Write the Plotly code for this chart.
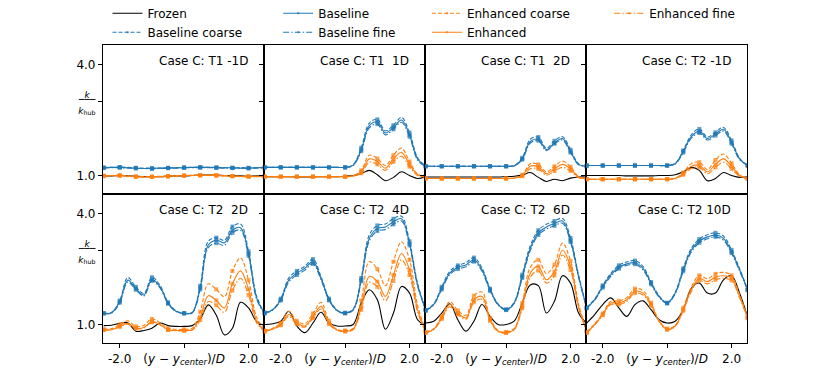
import plotly.graph_objects as go
from plotly.subplots import make_subplots

# lateral position (y - y_center)/D
X = [-2.5, -2.25, -2.0, -1.75, -1.5, -1.25, -1.0, -0.75, -0.5, -0.25, 0.0,
     0.25, 0.5, 0.75, 1.0, 1.25, 1.5, 1.75, 2.0, 2.25, 2.5]

TITLES = ["Case C: T1 -1D", "Case C: T1\u00a0 1D", "Case C: T1\u00a0 2D", "Case C: T2 -1D",
          "Case C: T2\u00a0 2D", "Case C: T2\u00a0 4D", "Case C: T2\u00a0 6D", "Case C: T2 10D"]

frozen = [
    [0.99, 0.99, 1.00, 0.99, 0.98, 0.97, 0.97, 0.97, 0.98, 0.99, 0.99, 1.00, 1.01, 1.02, 1.01, 1.00, 0.99, 0.99, 0.98, 0.99, 0.98],
    [0.97, 0.97, 0.97, 0.97, 0.96, 0.96, 0.96, 0.97, 0.97, 0.97, 0.98, 1.00, 1.05, 1.14, 1.02, 0.86, 0.95, 1.10, 1.00, 0.92, 0.97],
    [0.96, 0.96, 0.96, 0.96, 0.96, 0.96, 0.96, 0.96, 0.96, 0.96, 0.97, 0.98, 1.01, 1.08, 0.95, 0.84, 0.90, 0.86, 0.93, 0.96, 0.96],
    [1.00, 1.00, 1.00, 1.00, 1.00, 0.99, 0.99, 0.99, 0.99, 1.00, 1.00, 1.02, 1.10, 1.22, 1.14, 0.86, 0.92, 1.08, 1.00, 0.95, 0.97],
    [0.97, 0.98, 1.03, 1.05, 0.82, 0.84, 0.90, 1.04, 0.97, 0.95, 0.95, 0.97, 1.15, 1.53, 1.25, 0.72, 0.90, 1.60, 1.45, 1.08, 0.97],
    [1.00, 1.02, 1.09, 1.36, 0.96, 0.78, 1.04, 1.33, 1.04, 0.96, 0.96, 1.00, 1.58, 1.94, 1.67, 0.87, 1.31, 2.03, 1.85, 1.13, 0.97],
    [1.04, 1.09, 1.31, 1.56, 1.13, 0.82, 1.09, 1.54, 1.22, 1.00, 1.00, 1.09, 1.58, 2.07, 2.05, 1.31, 1.63, 2.32, 2.12, 1.31, 1.03],
    [1.04, 1.27, 1.54, 1.72, 1.45, 1.22, 1.54, 1.64, 1.40, 1.13, 1.04, 1.09, 1.40, 1.98, 2.12, 1.85, 1.85, 2.21, 2.32, 1.85, 1.20],
]

baseline = [
    [1.21, 1.22, 1.22, 1.21, 1.20, 1.19, 1.19, 1.20, 1.20, 1.21, 1.21, 1.22, 1.22, 1.22, 1.21, 1.21, 1.21, 1.20, 1.20, 1.21, 1.22],
    [1.22, 1.22, 1.22, 1.22, 1.22, 1.22, 1.22, 1.22, 1.22, 1.22, 1.22, 1.28, 1.70, 2.35, 2.45, 2.15, 2.30, 2.50, 2.10, 1.45, 1.25],
    [1.25, 1.25, 1.25, 1.25, 1.25, 1.25, 1.25, 1.25, 1.25, 1.25, 1.25, 1.26, 1.45, 1.92, 1.98, 1.70, 1.88, 2.00, 1.65, 1.30, 1.25],
    [1.27, 1.27, 1.27, 1.27, 1.27, 1.27, 1.27, 1.27, 1.27, 1.27, 1.27, 1.32, 1.65, 2.05, 2.20, 2.00, 2.12, 2.25, 1.90, 1.45, 1.27],
    [1.30, 1.32, 1.62, 2.20, 1.97, 1.80, 2.22, 2.02, 1.58, 1.36, 1.30, 1.32, 2.00, 3.15, 3.28, 3.21, 3.55, 3.62, 2.92, 1.72, 1.30],
    [1.31, 1.40, 1.67, 2.20, 2.39, 2.52, 2.70, 2.25, 1.67, 1.38, 1.31, 1.40, 2.21, 3.33, 3.60, 3.64, 3.78, 3.86, 3.19, 2.07, 1.40],
    [1.38, 1.54, 1.98, 2.39, 2.55, 2.61, 2.75, 2.48, 1.94, 1.54, 1.40, 1.58, 2.30, 3.06, 3.48, 3.64, 3.73, 3.80, 3.28, 2.30, 1.45],
    [1.45, 1.67, 2.03, 2.34, 2.55, 2.64, 2.67, 2.52, 2.12, 1.76, 1.58, 1.85, 2.48, 3.01, 3.26, 3.37, 3.42, 3.33, 2.97, 2.48, 1.94],
]

baseline_coarse = [
    [1.22, 1.22, 1.23, 1.22, 1.21, 1.20, 1.20, 1.20, 1.21, 1.21, 1.22, 1.22, 1.23, 1.22, 1.22, 1.21, 1.21, 1.21, 1.21, 1.21, 1.22],
    [1.22, 1.22, 1.22, 1.22, 1.22, 1.22, 1.22, 1.22, 1.22, 1.22, 1.22, 1.29, 1.75, 2.42, 2.52, 2.21, 2.36, 2.57, 2.16, 1.48, 1.26],
    [1.25, 1.25, 1.25, 1.25, 1.25, 1.25, 1.25, 1.25, 1.25, 1.25, 1.25, 1.27, 1.48, 1.98, 2.04, 1.74, 1.94, 2.05, 1.70, 1.32, 1.25],
    [1.27, 1.27, 1.27, 1.27, 1.27, 1.27, 1.27, 1.27, 1.27, 1.27, 1.27, 1.33, 1.68, 2.10, 2.26, 2.04, 2.17, 2.30, 1.95, 1.47, 1.27],
    [1.31, 1.33, 1.65, 2.27, 2.02, 1.84, 2.28, 2.06, 1.60, 1.37, 1.31, 1.33, 2.05, 3.25, 3.35, 3.28, 3.65, 3.72, 2.98, 1.77, 1.31],
    [1.32, 1.41, 1.70, 2.26, 2.45, 2.58, 2.77, 2.30, 1.70, 1.39, 1.32, 1.42, 2.26, 3.42, 3.68, 3.72, 3.86, 3.93, 3.25, 2.11, 1.41],
    [1.39, 1.56, 2.02, 2.44, 2.60, 2.67, 2.81, 2.53, 1.97, 1.56, 1.41, 1.60, 2.35, 3.13, 3.55, 3.71, 3.80, 3.87, 3.34, 2.34, 1.46],
    [1.46, 1.69, 2.06, 2.38, 2.60, 2.69, 2.73, 2.57, 2.15, 1.78, 1.59, 1.87, 2.52, 3.06, 3.31, 3.43, 3.48, 3.39, 3.02, 2.51, 1.95],
]

baseline_fine = [
    [1.20, 1.21, 1.21, 1.20, 1.19, 1.19, 1.18, 1.19, 1.20, 1.20, 1.21, 1.21, 1.21, 1.21, 1.21, 1.20, 1.20, 1.20, 1.19, 1.20, 1.21],
    [1.22, 1.22, 1.22, 1.22, 1.22, 1.22, 1.22, 1.22, 1.22, 1.22, 1.22, 1.27, 1.66, 2.29, 2.39, 2.10, 2.25, 2.44, 2.05, 1.42, 1.24],
    [1.25, 1.25, 1.25, 1.25, 1.25, 1.25, 1.25, 1.25, 1.25, 1.25, 1.25, 1.26, 1.43, 1.88, 1.94, 1.67, 1.86, 1.96, 1.62, 1.29, 1.25],
    [1.27, 1.27, 1.27, 1.27, 1.27, 1.27, 1.27, 1.27, 1.27, 1.27, 1.27, 1.31, 1.62, 2.01, 2.15, 1.96, 2.08, 2.20, 1.86, 1.43, 1.27],
    [1.30, 1.31, 1.59, 2.15, 1.94, 1.77, 2.18, 1.99, 1.56, 1.35, 1.30, 1.31, 1.95, 3.08, 3.20, 3.14, 3.48, 3.55, 2.86, 1.69, 1.29],
    [1.30, 1.39, 1.65, 2.15, 2.34, 2.47, 2.64, 2.21, 1.65, 1.37, 1.30, 1.39, 2.17, 3.26, 3.53, 3.57, 3.71, 3.80, 3.14, 2.04, 1.39],
    [1.37, 1.53, 1.95, 2.35, 2.50, 2.56, 2.70, 2.44, 1.91, 1.53, 1.39, 1.57, 2.26, 3.00, 3.42, 3.58, 3.67, 3.74, 3.23, 2.27, 1.44],
    [1.44, 1.66, 2.00, 2.30, 2.51, 2.60, 2.63, 2.48, 2.09, 1.74, 1.57, 1.83, 2.44, 2.96, 3.21, 3.32, 3.37, 3.28, 2.93, 2.45, 1.93],
]

enhanced = [
    [0.99, 1.00, 1.00, 0.98, 0.97, 0.96, 0.97, 0.97, 0.98, 0.99, 1.00, 1.00, 1.01, 1.01, 1.00, 0.99, 0.98, 0.98, 0.97, 0.98, 0.97],
    [0.97, 0.97, 0.97, 0.97, 0.97, 0.97, 0.97, 0.97, 0.97, 0.97, 0.97, 0.99, 1.10, 1.45, 1.38, 1.20, 1.45, 1.62, 1.30, 1.02, 0.97],
    [0.92, 0.92, 0.92, 0.92, 0.92, 0.92, 0.92, 0.92, 0.92, 0.92, 0.92, 0.93, 1.00, 1.25, 1.24, 1.05, 1.18, 1.30, 1.18, 0.95, 0.92],
    [0.90, 0.90, 0.90, 0.90, 0.90, 0.90, 0.90, 0.90, 0.90, 0.90, 0.90, 0.92, 1.05, 1.25, 1.28, 1.10, 1.30, 1.45, 1.25, 1.00, 0.92],
    [0.85, 0.86, 0.95, 1.03, 0.90, 0.92, 1.08, 1.00, 0.86, 0.84, 0.84, 0.86, 1.20, 1.78, 1.65, 1.45, 2.10, 2.45, 1.95, 1.10, 0.82],
    [0.82, 0.88, 1.00, 1.27, 1.04, 0.96, 1.22, 1.49, 1.04, 0.85, 0.82, 0.87, 1.49, 2.30, 2.16, 1.76, 2.34, 2.92, 2.48, 1.40, 0.82],
    [0.78, 0.87, 1.18, 1.54, 1.31, 1.18, 1.67, 1.76, 1.13, 0.82, 0.78, 0.87, 1.49, 2.39, 2.57, 2.21, 2.43, 3.01, 2.57, 1.49, 0.82],
    [0.78, 1.00, 1.27, 1.58, 1.58, 1.67, 1.90, 1.85, 1.54, 1.09, 0.87, 0.96, 1.40, 1.94, 2.25, 2.16, 2.28, 2.32, 2.25, 1.76, 1.18],
]

enhanced_coarse = [
    [1.00, 1.00, 1.01, 0.99, 0.98, 0.97, 0.97, 0.98, 0.99, 1.00, 1.00, 1.01, 1.01, 1.02, 1.01, 1.00, 0.99, 0.98, 0.98, 0.98, 0.98],
    [0.97, 0.97, 0.97, 0.97, 0.97, 0.97, 0.97, 0.97, 0.97, 0.97, 0.97, 1.00, 1.14, 1.55, 1.46, 1.27, 1.55, 1.74, 1.38, 1.04, 0.97],
    [0.92, 0.92, 0.92, 0.92, 0.92, 0.92, 0.92, 0.92, 0.92, 0.92, 0.92, 0.93, 1.02, 1.32, 1.30, 1.10, 1.25, 1.39, 1.24, 0.97, 0.92],
    [0.90, 0.90, 0.90, 0.90, 0.90, 0.90, 0.90, 0.90, 0.90, 0.90, 0.90, 0.93, 1.08, 1.32, 1.36, 1.16, 1.42, 1.58, 1.33, 1.02, 0.92],
    [0.88, 0.89, 1.00, 1.10, 0.95, 0.98, 1.15, 1.05, 0.90, 0.87, 0.87, 0.90, 1.35, 2.10, 1.95, 1.75, 2.45, 2.80, 2.20, 1.20, 0.85],
    [0.84, 0.90, 1.04, 1.35, 1.10, 1.02, 1.30, 1.60, 1.10, 0.87, 0.84, 0.90, 1.65, 2.70, 2.50, 2.05, 2.70, 3.24, 2.75, 1.52, 0.84],
    [0.80, 0.89, 1.22, 1.62, 1.38, 1.25, 1.78, 1.88, 1.18, 0.84, 0.80, 0.89, 1.58, 2.55, 2.75, 2.38, 2.62, 3.20, 2.72, 1.56, 0.84],
    [0.80, 1.02, 1.30, 1.63, 1.64, 1.73, 1.97, 1.92, 1.59, 1.11, 0.89, 0.98, 1.45, 2.01, 2.33, 2.24, 2.37, 2.41, 2.33, 1.81, 1.20],
]

enhanced_fine = [
    [0.98, 0.99, 0.99, 0.98, 0.96, 0.96, 0.96, 0.97, 0.97, 0.98, 0.99, 1.00, 1.00, 1.01, 1.00, 0.99, 0.98, 0.97, 0.97, 0.97, 0.97],
    [0.97, 0.97, 0.97, 0.97, 0.97, 0.97, 0.97, 0.97, 0.97, 0.97, 0.97, 0.98, 1.06, 1.36, 1.30, 1.14, 1.37, 1.52, 1.24, 1.00, 0.97],
    [0.92, 0.92, 0.92, 0.92, 0.92, 0.92, 0.92, 0.92, 0.92, 0.92, 0.92, 0.93, 0.98, 1.18, 1.18, 1.01, 1.12, 1.22, 1.12, 0.94, 0.92],
    [0.90, 0.90, 0.90, 0.90, 0.90, 0.90, 0.90, 0.90, 0.90, 0.90, 0.90, 0.91, 1.02, 1.19, 1.22, 1.05, 1.22, 1.36, 1.18, 0.98, 0.91],
    [0.85, 0.86, 0.94, 1.01, 0.89, 0.91, 1.06, 0.99, 0.85, 0.83, 0.83, 0.85, 1.12, 1.62, 1.52, 1.33, 1.92, 2.25, 1.80, 1.05, 0.81],
    [0.81, 0.87, 0.98, 1.22, 1.01, 0.93, 1.17, 1.42, 1.01, 0.84, 0.81, 0.86, 1.40, 2.14, 2.02, 1.64, 2.18, 2.75, 2.34, 1.34, 0.81],
    [0.77, 0.86, 1.15, 1.48, 1.27, 1.14, 1.60, 1.68, 1.10, 0.81, 0.77, 0.86, 1.44, 2.28, 2.46, 2.12, 2.33, 2.88, 2.47, 1.45, 0.81],
    [0.77, 0.99, 1.25, 1.54, 1.54, 1.63, 1.85, 1.80, 1.51, 1.08, 0.86, 0.95, 1.37, 1.89, 2.19, 2.10, 2.21, 2.25, 2.19, 1.72, 1.17],
]

BLUE = "#1f77b4"
ORANGE = "#ff7f0e"
DASH = "4px,2px"
DASHDOT = "6px,2px,1.5px,2px"

# name, data, colour, dash, markers?, legend
series = [
    ("Frozen", frozen, "black", "solid", False, "legend"),
    ("Baseline coarse", baseline_coarse, BLUE, DASH, True, "legend"),
    ("Baseline", baseline, BLUE, "solid", True, "legend2"),
    ("Baseline fine", baseline_fine, BLUE, DASHDOT, True, "legend2"),
    ("Enhanced coarse", enhanced_coarse, ORANGE, DASH, True, "legend3"),
    ("Enhanced", enhanced, ORANGE, "solid", True, "legend3"),
    ("Enhanced fine", enhanced_fine, ORANGE, DASHDOT, True, "legend4"),
]

msize = [4 if i % 2 == 0 else 0 for i in range(len(X))]

fig = make_subplots(rows=2, cols=4, horizontal_spacing=0, vertical_spacing=0)

for p in range(8):
    r, c = p // 4 + 1, p % 4 + 1
    for name, data, color, dash, mk, leg in series:
        fig.add_trace(go.Scatter(
            x=X, y=data[p], name=name,
            mode="lines+markers" if mk else "lines",
            line=dict(color=color, width=1.1, dash=dash, shape="spline", smoothing=1.0),
            marker=dict(symbol="square", size=msize, color=color, line=dict(width=0)),
            legend=leg, showlegend=(p == 0),
        ), row=r, col=c)
    xref = "x domain" if p == 0 else f"x{p + 1} domain"
    yref = "y domain" if p == 0 else f"y{p + 1} domain"
    fig.add_annotation(text=TITLES[p], xref=xref, yref=yref, x=0.915, y=0.895,
                       xanchor="right", yanchor="middle", showarrow=False,
                       font=dict(size=12, color="black"))

frac = ("<span style='font-size:9px'><u>\u00a0\u00a0<i>k</i>\u00a0\u00a0</u>"
        "<br><i>k</i><sub>hub</sub></span>")
xlab = "(<i>y</i> \u2212 <i>y</i><sub><i>center</i></sub>)/<i>D</i>"

fig.update_xaxes(range=[-2.52, 2.48], tickvals=[-2, 0, 2], ticktext=["-2.0", xlab, "2.0"],
                 showline=True, mirror=True, linecolor="black", linewidth=1.2,
                 ticks="outside", ticklen=4, tickcolor="black", showgrid=False,
                 zeroline=False, showticklabels=False)
fig.update_xaxes(row=2, showticklabels=True)
fig.update_xaxes(row=1, ticks="")
fig.update_yaxes(range=[0.5, 4.53], tickvals=[1, 3, 4], ticktext=["1.0", frac, "4.0"],
                 showline=True, mirror=True, linecolor="black", linewidth=1.2,
                 ticks="outside", ticklen=4, tickcolor="black", showgrid=False,
                 zeroline=False, showticklabels=False)
fig.update_yaxes(col=1, showticklabels=True)

leg = dict(orientation="v", xanchor="left", yanchor="top", y=1.155,
           bgcolor="rgba(0,0,0,0)", font=dict(size=12, color="black"),
           tracegroupgap=0, itemwidth=30)
fig.update_layout(
    width=830, height=386,
    margin=dict(l=103, r=83, t=45, b=43, autoexpand=False),
    paper_bgcolor="white", plot_bgcolor="white",
    font=dict(family="DejaVu Sans", size=12, color="black"),
    legend=dict(leg, x=0.007),
    legend2=dict(leg, x=0.272),
    legend3=dict(leg, x=0.503),
    legend4=dict(leg, x=0.786),
)

# the page body's default 8px margin would offset the figure
fig.write_html("out.html", config={"displayModeBar": False},
               post_script="document.body.style.margin='0';")
